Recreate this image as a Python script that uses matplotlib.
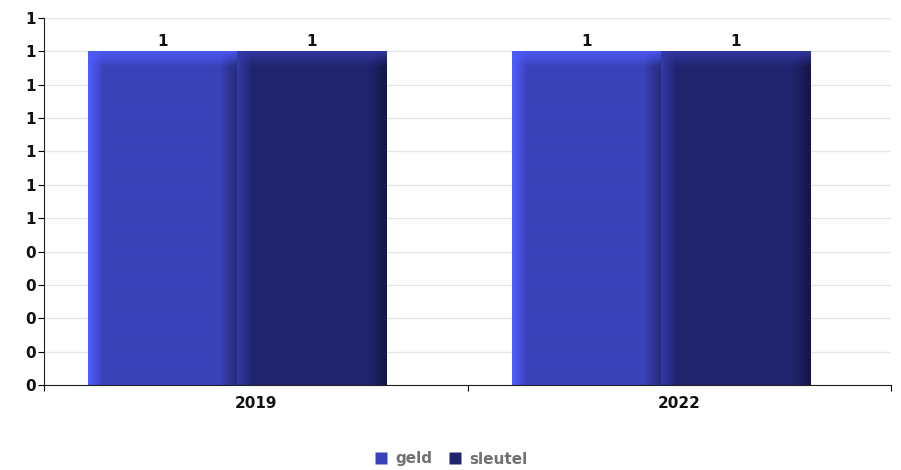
import numpy as np
import matplotlib.pyplot as plt
from matplotlib.ticker import FixedLocator, FuncFormatter
from matplotlib.lines import Line2D

categories = ['2019', '2022']
series_names = ['geld', 'sleutel']
geld = [1, 1]
sleutel = [1, 1]
yticks = [0, 0.1, 0.2, 0.3, 0.4, 0.5, 0.6, 0.7, 0.8, 0.9, 1.0, 1.1]

base_colors = {'geld': (58, 66, 185), 'sleutel': (32, 36, 110)}
edge_colors = {'geld': (80, 92, 255), 'sleutel': (52, 58, 168)}


def bar_image(name, nx=150, ny=330, bevel_px=15):
    base = np.array(base_colors[name]) / 255.0
    light = np.array(edge_colors[name]) / 255.0
    dark = base * 0.65
    t = np.linspace(0, 1, nx)
    prof = np.zeros((nx, 3))
    for i, v in enumerate(t):
        if v < 0.1:
            a = v / 0.1
            prof[i] = light * (1 - a) + base * a
        elif v < 0.88:
            prof[i] = base
        else:
            a = (v - 0.88) / 0.12
            prof[i] = base * (1 - a) + dark * a
    img = np.tile(prof, (ny, 1, 1))
    # lighter bevel along the top
    for j in range(bevel_px):
        a = j / bevel_px
        img[j] = np.clip(light * 0.85 * (1 - a) + prof * (0.15 * (1 - a) + a), 0, 1)
    return img


fig = plt.figure(figsize=(9.01, 4.70), dpi=100)
ax = fig.add_axes([44 / 901, 85 / 470, 847 / 901, 367 / 470])

x = np.arange(len(categories))
width = 0.352
offset = 0.104
for k, (name, vals) in enumerate(zip(series_names, [geld, sleutel])):
    for i, v in enumerate(vals):
        x0 = x[i] + offset + k * width
        ax.imshow(bar_image(name), extent=[x0, x0 + width, 0, v], aspect='auto',
                  interpolation='bilinear', zorder=2)
        ax.annotate(str(v), (x0 + width / 2, v), xytext=(0, 2),
                    textcoords='offset points', ha='center', va='bottom',
                    fontsize=11, fontweight='bold', color='#111111')

ax.set_xlim(0, len(categories))
ax.set_ylim(0, 1.1)

ax.yaxis.set_major_locator(FixedLocator(yticks))
ax.yaxis.set_major_formatter(FuncFormatter(lambda v, p: str(int(np.floor(v + 0.5 + 1e-9)))))
ax.set_xticks([0, 1, 2])
ax.set_xticklabels([])
ax.set_xticks(x + 0.5, minor=True)
ax.set_xticklabels(categories, minor=True)
ax.tick_params(axis='x', which='minor', length=0, pad=8, labelsize=11)
ax.tick_params(axis='x', which='major', length=4, direction='out')
ax.tick_params(axis='y', length=4, direction='out', labelsize=11, pad=2)
for lab in ax.get_xticklabels(minor=True) + ax.get_yticklabels():
    lab.set_fontweight('bold')
    lab.set_color('#111111')

ax.grid(axis='y', color='#e6e6e6', linewidth=1, zorder=0)
ax.set_axisbelow(True)
for s in ['top', 'right']:
    ax.spines[s].set_visible(False)
ax.spines['left'].set_color('#222222')
ax.spines['bottom'].set_color('#222222')

handles = [Line2D([], [], marker='s', linestyle='none', markersize=8,
                  markerfacecolor=np.array(base_colors[n]) / 255.0,
                  markeredgecolor='none') for n in series_names]
leg = fig.legend(handles, series_names, loc='center', bbox_to_anchor=(0.5, 11 / 470),
                 ncol=2, frameon=False, handletextpad=0.4, columnspacing=1.0,
                 handlelength=1.0, prop={'weight': 'bold', 'size': 11})
for t in leg.get_texts():
    t.set_color('#707070')

fig.savefig('out.png', dpi=100)
